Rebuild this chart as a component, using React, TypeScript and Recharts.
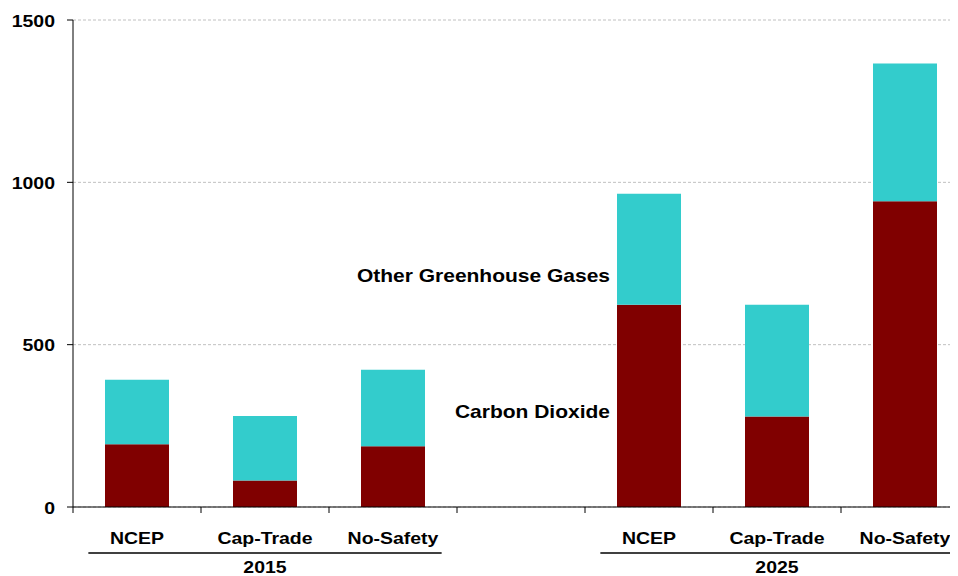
import React from 'react';
import { BarChart, Bar, XAxis, YAxis, CartesianGrid, Customized } from 'recharts';

const categories = ['NCEP', 'Cap-Trade', 'No-Safety', '', 'NCEP', 'Cap-Trade', 'No-Safety'];
const years = ['2015', '2015', '2015', '', '2025', '2025', '2025'];
const carbonDioxide = [193, 82, 187, 0, 623, 279, 942];
const otherGases = [199, 198, 236, 0, 342, 344, 424];
const yTicks = [0, 500, 1000, 1500];

const data = categories.map((name, i) => ({
    id: i,
    name,
    year: years[i],
    co2: categories[i] ? carbonDioxide[i] : null,
    other: categories[i] ? otherGases[i] : null,
}));

const CHART_W = 969;
const CHART_H = 576;
const LEFT = 73;
const BAND = (CHART_W - LEFT) / categories.length;
const FONT = '"Liberation Sans", Arial, sans-serif';

// stretched bold text, like the original export
const Stretch = ({ x, y, anchor, size = 16.5, sx = 1.18, children }: any) => (
    <text
        transform={`translate(${x},${y}) scale(${sx},1)`}
        textAnchor={anchor}
        fontFamily={FONT}
        fontWeight="bold"
        fontSize={size}
        fill="#000"
    >
        {children}
    </text>
);

const YTick = ({ x, y, payload }: any) => (
    <Stretch x={x} y={y + 6.5} anchor="end">{payload.value}</Stretch>
);

const XTick = ({ x, y, payload, index }: any) => {
    const i = index;
    const year = years[i];
    const isMiddle = year && years[i - 1] === year && years[i + 1] === year;
    return (
        <g>
            <line x1={x - BAND / 2} x2={x - BAND / 2} y1={y} y2={y + 6} stroke="#000" strokeWidth={1} />
            {payload.value && <Stretch x={x} y={y + 37} anchor="middle">{payload.value}</Stretch>}
            {isMiddle && (
                <g>
                    <line x1={x - BAND * 1.38} x2={x + BAND * 1.38} y1={y + 46} y2={y + 46} stroke="#000" strokeWidth={1.5} />
                    <Stretch x={x} y={y + 66} anchor="middle">{year}</Stretch>
                </g>
            )}
        </g>
    );
};

const Annotations = () => (
    <g>
        <Stretch x={610} y={282} anchor="end" size={17.5} sx={1.2}>Other Greenhouse Gases</Stretch>
        <Stretch x={610} y={418} anchor="end" size={17.5} sx={1.2}>Carbon Dioxide</Stretch>
    </g>
);

export default function App() {
    return (
        <div style={{ margin: '-8px 0 0 -8px', width: 958, height: CHART_H, overflow: 'hidden', background: '#fff' }}>
            <BarChart
                width={CHART_W}
                height={CHART_H}
                data={data}
                margin={{ top: 20, right: 0, bottom: 0, left: 0 }}
                barCategoryGap={0}
            >
                <CartesianGrid vertical={false} stroke="#c0c0c0" strokeDasharray="3 2" />
                <XAxis
                    dataKey="name"
                    height={69}
                    axisLine={{ stroke: '#000' }}
                    tickLine={false}
                    tickSize={0}
                    tickMargin={0}
                    interval={0}
                    tick={<XTick />}
                />
                <YAxis
                    domain={[0, 1500]}
                    ticks={yTicks}
                    width={LEFT}
                    axisLine={{ stroke: '#000' }}
                    tickLine={{ stroke: '#000' }}
                    tickSize={6}
                    tickMargin={12}
                    tick={<YTick />}
                />
                <Bar dataKey="co2" stackId="a" fill="#800000" barSize={64} isAnimationActive={false} />
                <Bar dataKey="other" stackId="a" fill="#33CCCC" barSize={64} isAnimationActive={false} />
                <Customized component={<Annotations />} />
            </BarChart>
        </div>
    );
}
